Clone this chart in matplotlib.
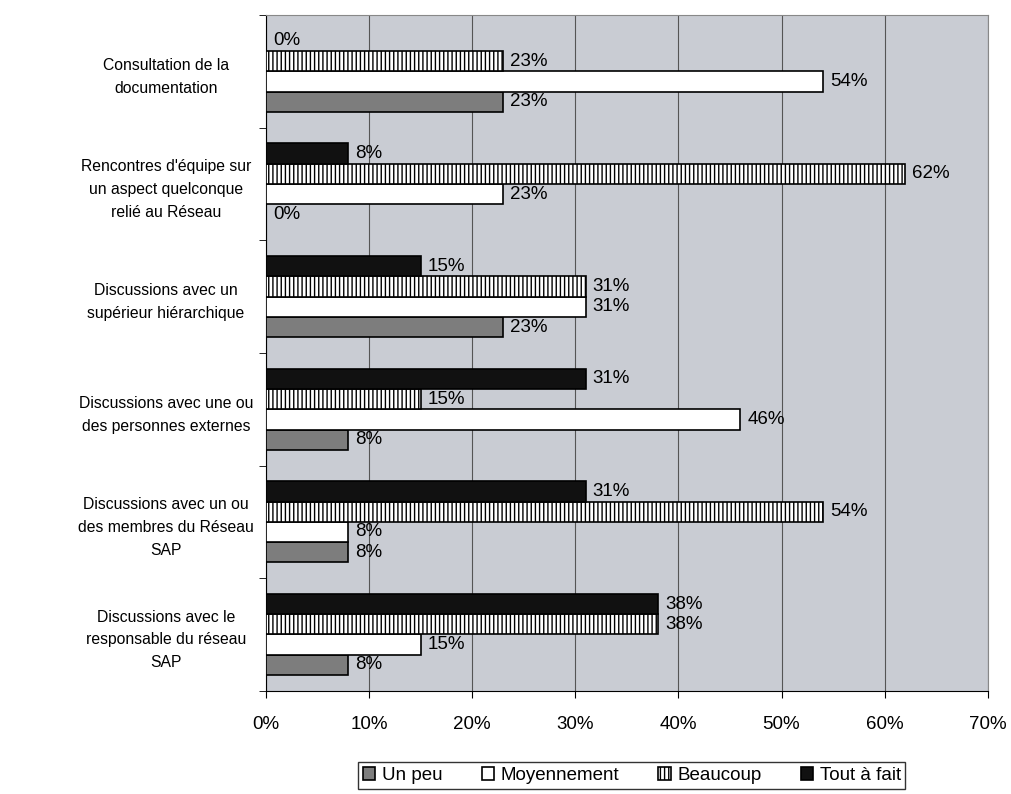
import numpy as np
import matplotlib
matplotlib.use("Agg")
import matplotlib.pyplot as plt

categories = [
    "Consultation de la\ndocumentation",
    "Rencontres d'équipe sur\nun aspect quelconque\nrelié au Réseau",
    "Discussions avec un\nsupérieur hiérarchique",
    "Discussions avec une ou\ndes personnes externes",
    "Discussions avec un ou\ndes membres du Réseau\nSAP",
    "Discussions avec le\nresponsable du réseau\nSAP",
]
series_names = ["Un peu", "Moyennement", "Beaucoup", "Tout à fait"]
un_peu = [23, 0, 23, 8, 8, 8]
moyennement = [54, 23, 31, 46, 8, 15]
beaucoup = [23, 62, 31, 15, 54, 38]
tout_a_fait = [0, 8, 15, 31, 31, 38]

plt.rcParams["font.family"] = ["Liberation Sans", "DejaVu Sans"]
plt.rcParams["hatch.linewidth"] = 1.0

fig = plt.figure(figsize=(10.11, 7.94), dpi=100)
ax = fig.add_axes([0.263, 0.130, 0.714, 0.851])
ax.set_facecolor("#c9ccd3")

y = np.arange(len(categories))[::-1]
h = 0.18
styles = [
    dict(color="#7d7d7d", hatch=None),
    dict(color="white", hatch=None),
    dict(color="white", hatch="||||"),
    dict(color="#111111", hatch=None),
]
offsets = [-1.5 * h, -0.5 * h, 0.5 * h, 1.5 * h]
for vals, name, st, off in zip([un_peu, moyennement, beaucoup, tout_a_fait],
                               series_names, styles, offsets):
    bars = ax.barh(y + off, vals, height=h, color=st["color"], hatch=st["hatch"],
                   edgecolor="black", linewidth=1.2, label=name, zorder=3)
    for b, v in zip(bars, vals):
        ax.text(v + 0.7, b.get_y() + h / 2, f"{v}%", va="center", ha="left",
                fontsize=13.5, zorder=4)

ax.set_xlim(0, 70)
ax.set_ylim(-0.5, len(categories) - 0.5)
ax.set_xticks(np.arange(0, 71, 10))
ax.set_xticklabels([f"{t}%" for t in range(0, 71, 10)], fontsize=13.5)
ax.tick_params(axis="x", length=5, pad=13)
ax.set_yticks(y)
ax.set_yticklabels(categories, fontsize=11.3, ha="center", linespacing=1.65)
ax.tick_params(axis="y", length=0, pad=72)
ax.set_yticks(np.arange(-0.5, len(categories), 1), minor=True)
ax.tick_params(axis="y", which="minor", length=5)
ax.grid(axis="x", color="#555555", linewidth=0.8, zorder=0)
for s in ["top", "right"]:
    ax.spines[s].set_color("#888888")
for s in ["left", "bottom"]:
    ax.spines[s].set_color("black")

leg = fig.legend(loc="lower center", bbox_to_anchor=(0.625, 0.002), ncol=4,
                 fontsize=13.5, frameon=True, fancybox=False, edgecolor="black",
                 handlelength=0.65, handleheight=0.65, handletextpad=0.35,
                 columnspacing=2.1, borderpad=0.25, borderaxespad=0.2)
leg.get_frame().set_linewidth(1.0)

fig.savefig("out.png", dpi=100)
